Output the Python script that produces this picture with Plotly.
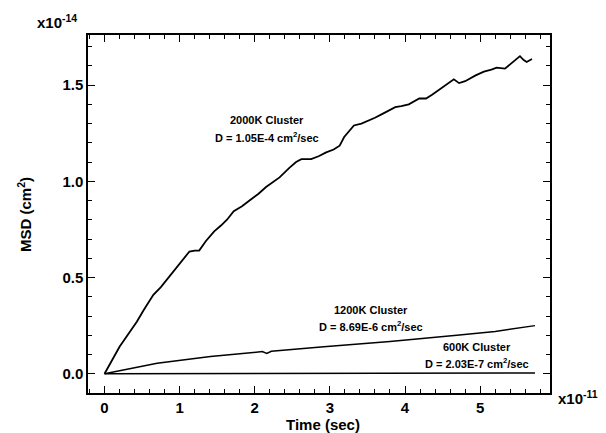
import plotly.graph_objects as go

# Time in units of 1e-11 s, MSD in units of 1e-14 cm^2
t_2000 = [0.0, 0.10, 0.20, 0.34, 0.43, 0.52, 0.65, 0.75, 0.85, 1.00, 1.13, 1.20, 1.26, 1.35, 1.46, 1.55,
          1.63, 1.72, 1.83, 1.93, 2.05, 2.15, 2.33, 2.46, 2.55, 2.62, 2.75, 2.85, 2.95, 3.05, 3.13,
          3.19, 3.32, 3.42, 3.52, 3.60, 3.70, 3.87, 3.95, 4.05, 4.19, 4.28, 4.36, 4.54, 4.65, 4.72,
          4.80, 4.94, 5.05, 5.15, 5.22, 5.33, 5.44, 5.53, 5.58, 5.62, 5.69]
msd_2000 = [0.0, 0.07, 0.14, 0.22, 0.27, 0.33, 0.41, 0.45, 0.50, 0.57, 0.635, 0.64, 0.64, 0.69, 0.74, 0.77,
            0.80, 0.845, 0.87, 0.90, 0.935, 0.97, 1.02, 1.07, 1.10, 1.115, 1.115, 1.13, 1.15, 1.165, 1.185,
            1.23, 1.29, 1.30, 1.315, 1.33, 1.35, 1.385, 1.39, 1.40, 1.43, 1.43, 1.45, 1.50, 1.53, 1.51,
            1.52, 1.55, 1.57, 1.58, 1.59, 1.585, 1.62, 1.65, 1.63, 1.62, 1.635]

t_1200 = [0.0, 0.70, 1.41, 2.10, 2.16, 2.22, 2.92, 3.80, 4.69, 5.20, 5.73]
msd_1200 = [0.0, 0.055, 0.09, 0.115, 0.105, 0.117, 0.14, 0.167, 0.20, 0.22, 0.25]

t_600 = [0.0, 1.5, 3.0, 4.5, 5.73]
msd_600 = [0.0, 0.001, 0.002, 0.003, 0.004]

labels = [
    ("2000K Cluster", "D = 1.05E-4 cm<sup>2</sup>/sec", 267, 120, 137),
    ("1200K Cluster", "D = 8.69E-6 cm<sup>2</sup>/sec", 371, 310, 326),
    ("600K Cluster", "D = 2.03E-7 cm<sup>2</sup>/sec", 477, 347, 363),
]

W, H = 606, 433
L, R, T, B = 88, 550, 35, 393

fig = go.Figure()
for tx, ty, lw in [(t_600, msd_600, 1.5), (t_1200, msd_1200, 1.5), (t_2000, msd_2000, 1.8)]:
    fig.add_trace(go.Scatter(x=tx, y=ty, mode='lines',
                             line=dict(color='black', width=lw), showlegend=False))

font_b = dict(family='Liberation Sans, Arial, sans-serif', color='black', weight='bold')

def px2paper(x, y):
    return (x - L) / (R - L), (B - y) / (B - T)

anns = []
for name, dtxt, cx, y1, y2 in labels:
    for txt, yy in [(name, y1), (dtxt, y2)]:
        px_, py_ = px2paper(cx, yy)
        anns.append(dict(x=px_, y=py_, xref='paper', yref='paper', text=txt, showarrow=False,
                         xanchor='center', yanchor='middle', font=dict(font_b, size=11)))

# exponent labels and axis titles (centre positions in pixels)
for txt, x, y, ang, sz in [
    ("x10<sup>-14</sup>", 57, 22, 0, 15),
    ("x10<sup>-11</sup>", 578, 397, 0, 15),
    ("Time (sec)", 323, 424, 0, 15),
    ("MSD (cm<sup>2</sup>)", 24, 215, -90, 15),
]:
    px_, py_ = px2paper(x, y)
    anns.append(dict(x=px_, y=py_, xref='paper', yref='paper', text=txt, showarrow=False,
                     xanchor='center', yanchor='middle', textangle=ang, font=dict(font_b, size=sz)))

axis_common = dict(showgrid=False, zeroline=False, showline=True, linecolor='black', linewidth=1.5,
                   mirror='ticks', ticks='inside', ticklen=7, tickwidth=1.3, tickcolor='black',
                   tickfont=dict(font_b, size=15))

fig.update_xaxes(range=[-0.22, 5.93], tickmode='linear', tick0=0, dtick=1,
                 minor=dict(ticks='inside', dtick=0.2, tick0=0, ticklen=4, tickcolor='black', tickwidth=1),
                 **axis_common)
fig.update_yaxes(range=[-0.1, 1.76], tickmode='linear', tick0=0, dtick=0.5, tickformat='.1f',
                 minor=dict(ticks='inside', dtick=0.1, tick0=0, ticklen=4, tickcolor='black', tickwidth=1),
                 **axis_common)

fig.update_layout(width=W, height=H, margin=dict(l=L, r=W - R, t=T, b=H - B),
                  plot_bgcolor='white', paper_bgcolor='white', annotations=anns)

fig.write_html("out.html", config={'displayModeBar': False},
               post_script="document.body.style.margin='0';")
